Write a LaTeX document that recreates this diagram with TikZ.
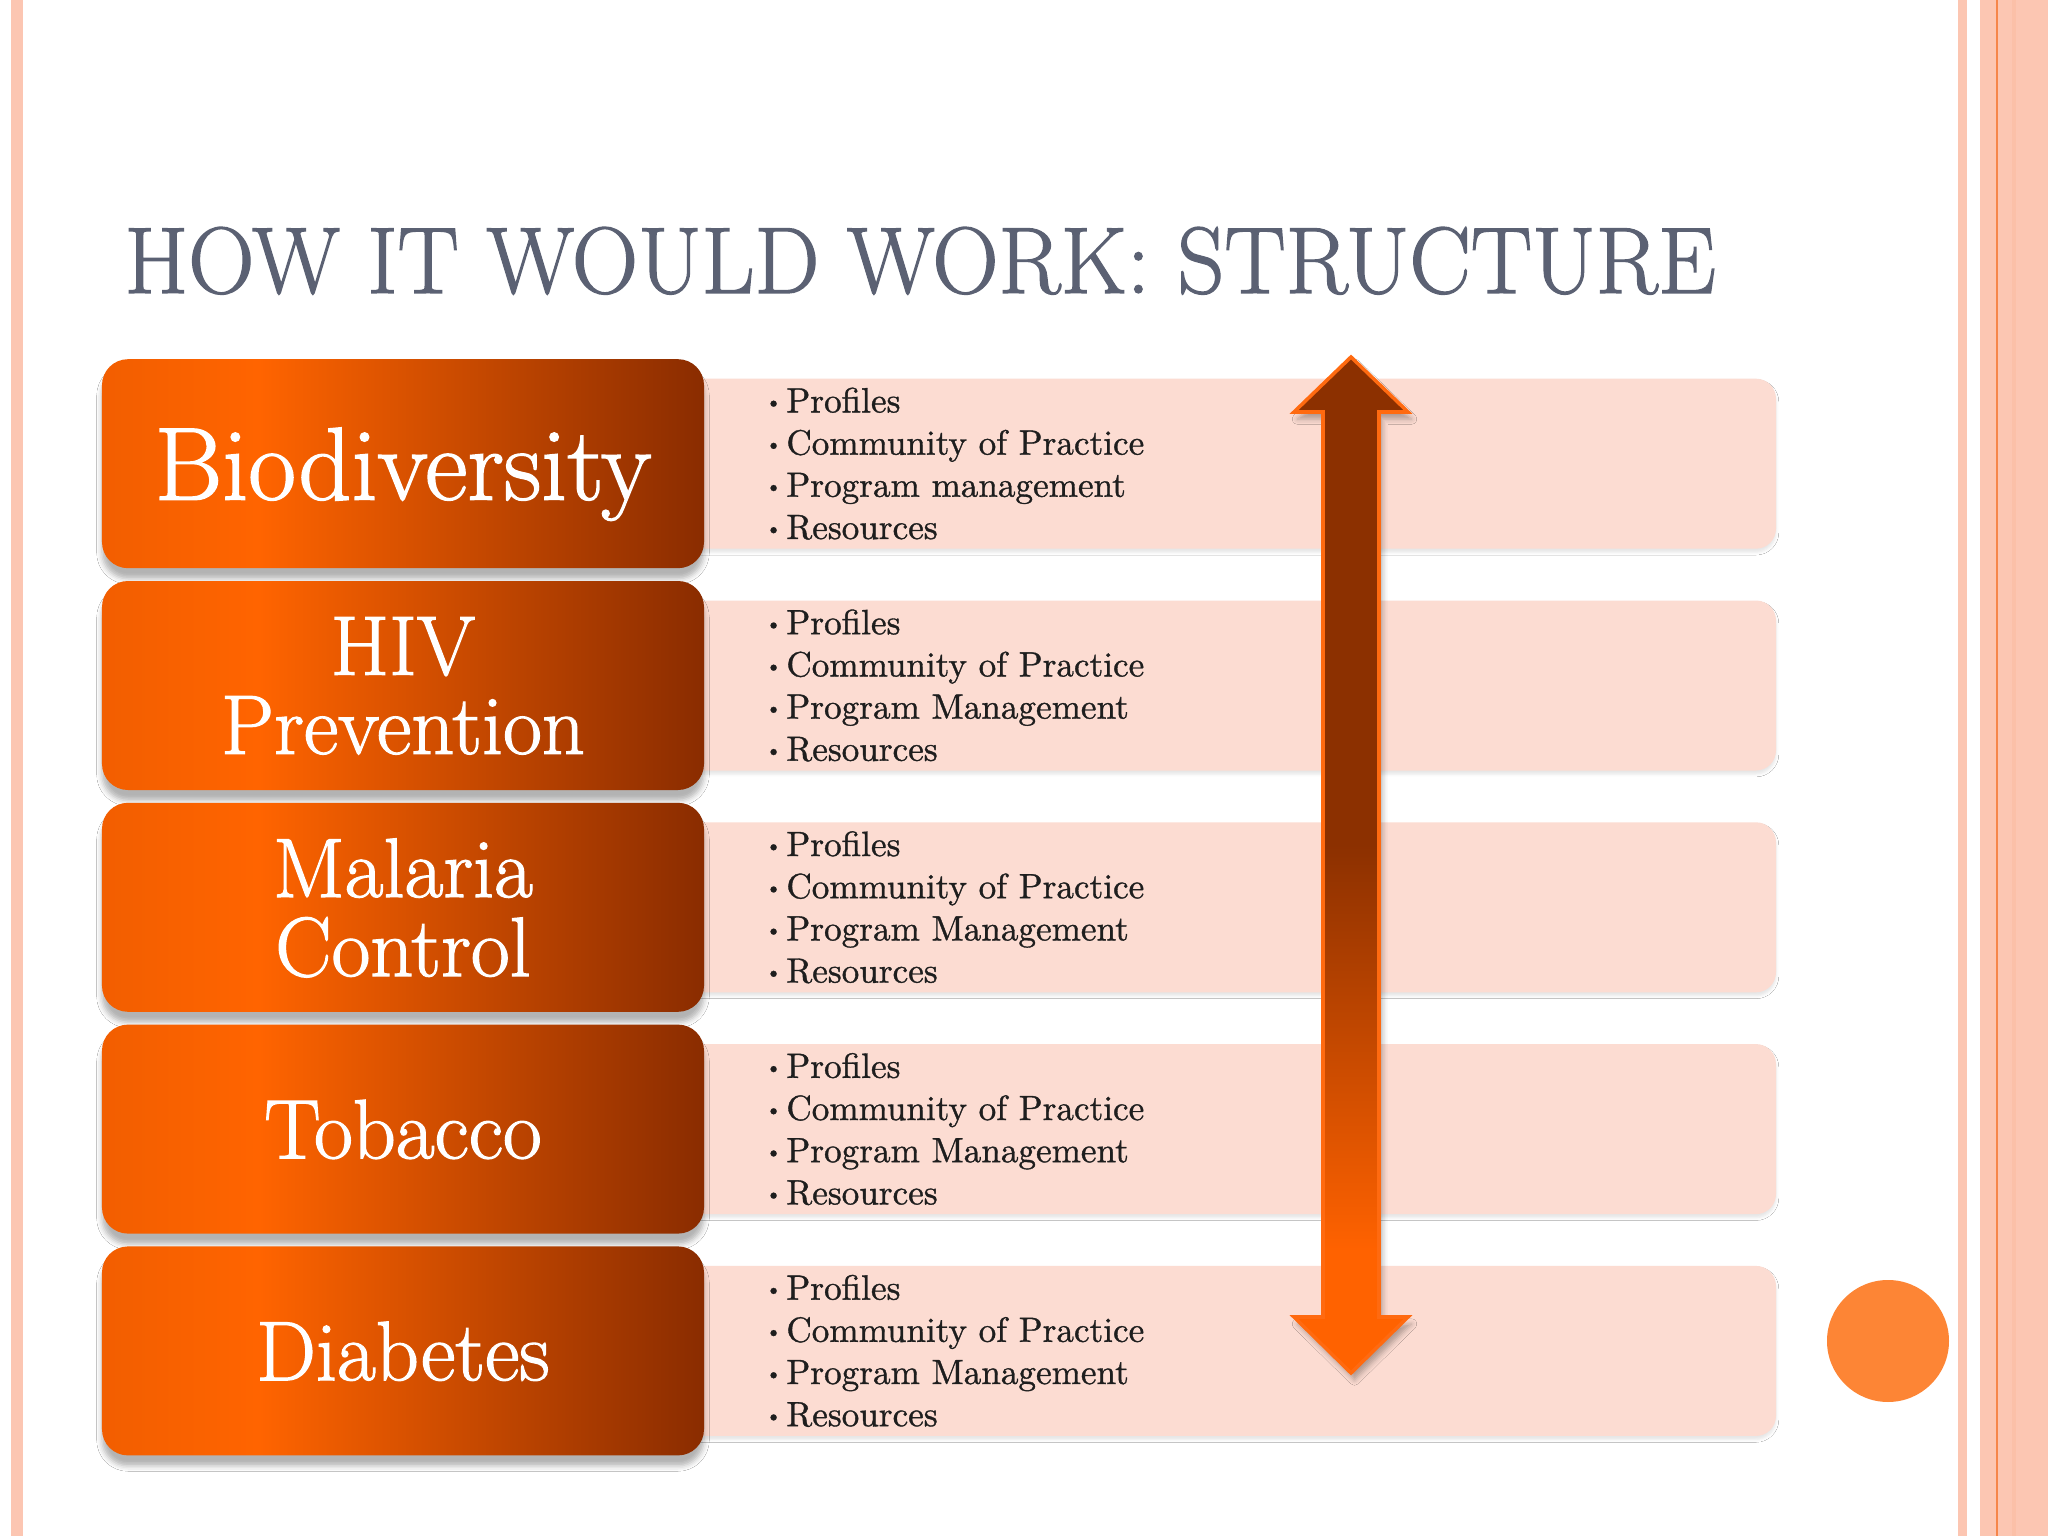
\documentclass[tikz,border=0pt]{standalone}
\usepackage{tikz}
\usepackage{graphicx}
\usepackage{fontspec}
\usetikzlibrary{positioning, shadows.blur}
\newfontfamily\heavyfont{lmroman17-regular.otf}[FakeBold=1.4]
\newfontfamily\taskfont{lmroman10-regular.otf}[FakeBold=1]
\definecolor{wtitle}{HTML}{5B6173}
\definecolor{wtext}{HTML}{1E1E1E}
\definecolor{wpink}{HTML}{FCDCD2}
\definecolor{wstripe}{HTML}{FCC6B2}
\definecolor{wline}{HTML}{F6864A}
\definecolor{wdot}{HTML}{FD8535}
\definecolor{bxleft}{HTML}{F25E00}
\definecolor{bxbright}{HTML}{FF6400}
\definecolor{bxdark}{HTML}{8A2C00}
\definecolor{arrowdark}{HTML}{8C3000}
\definecolor{arrowlight}{HTML}{FF6200}
\definecolor{arrowedge}{HTML}{FF6A10}
\pgfdeclarehorizontalshading{topicshade}{100bp}{color(0bp)=(bxleft); color(25bp)=(bxleft); color(38bp)=(bxbright); color(75bp)=(bxdark); color(100bp)=(bxdark)}
\pgfdeclareverticalshading{arrowshade}{100bp}{color(0bp)=(arrowlight); color(31bp)=(arrowlight); color(51bp)=(arrowdark); color(100bp)=(arrowdark)}
\newcommand{\taskdot}{\makebox[0.21cm][l]{\raisebox{1.1pt}{\fontsize{6}{7}\selectfont\textbullet}}}
\newcommand{\tasklist}[1]{%
  \taskdot Profiles\\
  \taskdot Community of Practice\\
  \taskdot Program #1\\
  \taskdot Resources}

\begin{document}
\begin{tikzpicture}[
  topic/.style={rounded corners=0.26cm, minimum width=6.02cm, minimum height=2.09cm,
    shading=topicshade, text=white, align=center, text depth=0pt, inner sep=0pt,
    font=\heavyfont\fontsize{24}{22.5}\selectfont,
    blur shadow={shadow xshift=0pt, shadow yshift=-3pt, shadow blur radius=1.5pt, shadow opacity=30}},
  row/.style={fill=wpink, rounded corners=0.2cm, minimum width=11.16cm, minimum height=1.70cm, inner sep=0pt,
    blur shadow={shadow xshift=0pt, shadow yshift=-1pt, shadow blur radius=0.8pt, shadow opacity=10}},
  tasks/.style={anchor=west, inner sep=0pt, align=left, text=wtext, font=\taskfont\fontsize{10}{12}\selectfont},
  bigarrow/.style={shading=arrowshade, draw=arrowedge, line width=1pt, line join=miter,
    blur shadow={shadow xshift=1pt, shadow yshift=-2pt, shadow blur radius=1.5pt, shadow opacity=30}}
]
  \useasboundingbox (0,0) rectangle (20.48,-15.36);
  \fill[white] (0,0) rectangle (20.48,-15.36);

  % side stripes
  \fill[wstripe] (0.11,0) rectangle (0.23,-15.36);
  \fill[wstripe] (19.58,0) rectangle (19.67,-15.36);
  \fill[wstripe] (19.80,0) rectangle (20.48,-15.36);
  \fill[wline] (19.96,0) rectangle (19.98,-15.36);
  \fill[wstripe!90!wline] (20.12,0) rectangle (20.16,-15.36);

  \node[anchor=base west, inner sep=0pt, text=wtitle] (title) at (1.24,-2.93)
    {\resizebox{15.91cm}{0.66cm}{\heavyfont\fontsize{26}{30}\selectfont HOW IT WOULD WORK: STRUCTURE}};

  % pink rows
  \node[row] (rowbio) at (12.18,-4.637) {};
  \node[row, below=0.504cm of rowbio] (rowhiv) {};
  \node[row, below=0.504cm of rowhiv] (rowmal) {};
  \node[row, below=0.504cm of rowmal] (rowtob) {};
  \node[row, below=0.504cm of rowtob] (rowdia) {};

  % topic boxes
  \node[topic, font=\heavyfont\fontsize{29.5}{30}\selectfont] (bio) at (4.03,-4.637) {Biodiversity};
  \node[topic, below=0.114cm of bio] (hiv) {HIV\\Prevention};
  \node[topic, below=0.114cm of hiv] (mal) {Malaria\\Control};
  \node[topic, below=0.114cm of mal] (tob) {Tobacco};
  \node[topic, below=0.114cm of tob] (dia) {Diabetes};

  \node[tasks, right=0.60cm of bio] (taskbio) {\tasklist{management}};
  \node[tasks, right=0.60cm of hiv] (taskhiv) {\tasklist{Management}};
  \node[tasks, right=0.60cm of mal] (taskmal) {\tasklist{Management}};
  \node[tasks, right=0.60cm of tob] (tasktob) {\tasklist{Management}};
  \node[tasks, right=0.60cm of dia] (taskdia) {\tasklist{Management}};

  % two-way arrow
  \coordinate (uptip) at (13.51,-3.57);
  \coordinate (downtip) at (13.51,-13.73);
  \draw[bigarrow] (uptip) -- ++(0.57,-0.55) -- ++(-0.29,0) -- ++(0,-9.05) -- ++(0.29,0)
    -- (downtip) -- ++(-0.57,0.56) -- ++(0.29,0) -- ++(0,9.05) -- ++(-0.29,0) -- cycle;

  \node[circle, fill=wdot, minimum size=1.22cm, inner sep=0pt] (dot) at (18.88,-13.41) {};
\end{tikzpicture}
\end{document}
